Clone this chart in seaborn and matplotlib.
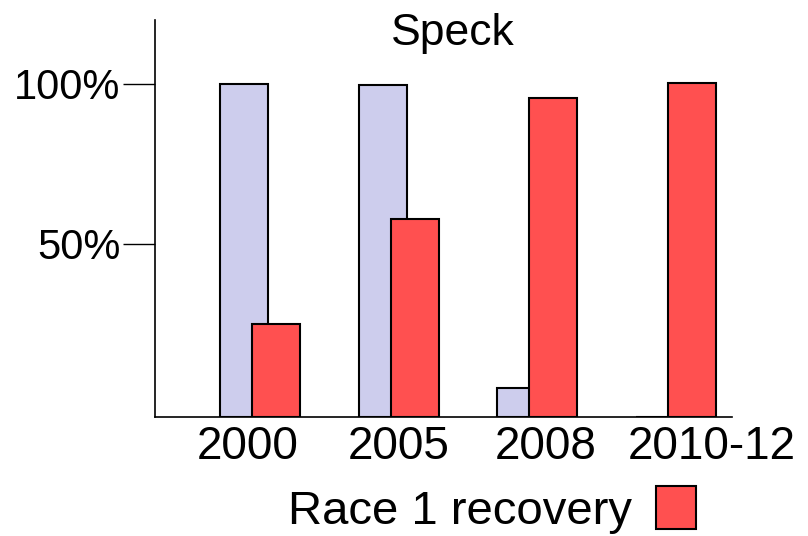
import matplotlib
matplotlib.use("Agg")
import matplotlib.pyplot as plt
import matplotlib.transforms as mtransforms
import seaborn as sns
import pandas as pd

# values (percent of isolates)
years = ["2000", "2005", "2008", "2010-12"]
other_pct = [100.0, 99.6, 8.7, 0.0]
race1_pct = [27.9, 59.5, 95.8, 100.3]
series_names = ["Other isolates", "Race 1 recovery"]
y_tick_values = [52, 100]
y_tick_labels = ["50%", "100%"]

df = pd.DataFrame({
    "year": years * 2,
    "pct": other_pct + race1_pct,
    "series": [series_names[0]] * len(years) + [series_names[1]] * len(years),
})

sns.set_style("white")
plt.rcParams["font.family"] = ["Liberation Sans", "DejaVu Sans"]
plt.rcParams["text.color"] = "black"
plt.rcParams["xtick.color"] = "black"
plt.rcParams["ytick.color"] = "black"

fig = plt.figure(figsize=(8.08, 5.36), dpi=100)
ax = fig.add_axes([0.1918, 0.222, 0.7141, 0.7407])

sns.barplot(data=df, x="year", y="pct", hue="series", order=years,
            hue_order=series_names, palette=["#CDCDED", "#FF5050"],
            dodge=True, width=0.4615, saturation=1, errorbar=None,
            edgecolor="black", linewidth=1.5, ax=ax)

# bars overlap each other in the original: widen them around their centres
for cont in ax.containers:
    for bar in cont.patches:
        w = bar.get_width()
        bar.set_x(bar.get_x() - w * 0.25)
        bar.set_width(w * 1.5)

ax.get_legend().remove()
fig.legend([ax.containers[1].patches[0]], [series_names[1]],
           loc="lower center", bbox_to_anchor=(0.609, -0.005),
           frameon=False, markerfirst=False, fontsize=34,
           handlelength=0.85, handleheight=1.02, handletextpad=0.5,
           borderpad=0.1, borderaxespad=0)

ax.set_xlim(-0.757, 3.404)
ax.set_ylim(0, 119.2)
ax.set_yticks(y_tick_values)
ax.set_yticklabels(y_tick_labels)
ax.set_xlabel("")
ax.set_ylabel("")
ax.tick_params(axis="y", direction="out", length=23, width=1, pad=2,
               labelsize=30, left=True)
ax.tick_params(axis="x", length=0, pad=6, labelsize=33)

# the original labels sit a little off the bar groups
label_shift_px = [-12, 0, 8, 36]
for lab, dx in zip(ax.get_xticklabels(), label_shift_px):
    lab.set_transform(lab.get_transform() +
                      mtransforms.Affine2D().translate(dx, 0))

sns.despine(ax=ax)
for side in ["left", "bottom"]:
    ax.spines[side].set_color("black")
    ax.spines[side].set_linewidth(1.2)

ax.text(0.516, 0.937, "Speck", transform=ax.transAxes, ha="center",
        va="baseline", fontsize=32)

fig.savefig("out.png", dpi=100)
plt.close(fig)
